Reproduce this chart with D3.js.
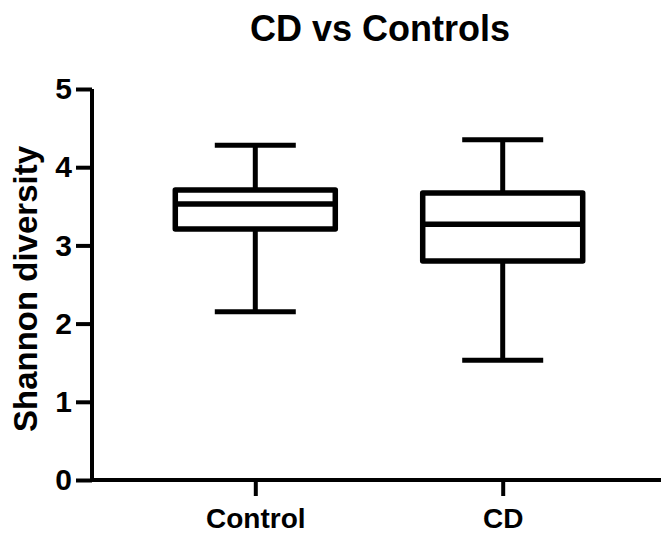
<!DOCTYPE html>
<html>
<head>
<meta charset="utf-8">
<script src="https://cdn.jsdelivr.net/npm/d3@7"></script>
<style>
  body { margin: 0; background: #fff; }
  text { font-family: "Liberation Sans", Arial, sans-serif; font-weight: bold; fill: #000; }
</style>
</head>
<body>
<svg id="chart" width="661" height="533"></svg>
<script>
// groups and five-number summaries
const groups = ["Control", "CD"];
const mins = [2.15, 1.53];
const q1s = [3.21, 2.80];
const medians = [3.53, 3.27];
const q3s = [3.71, 3.67];
const maxs = [4.28, 4.35];
const yTicks = [0, 1, 2, 3, 4, 5];

const svg = d3.select('#chart');

// scales
const y = d3.scaleLinear().domain([0, 5]).range([480, 89]);
const x = d3.scalePoint().domain(groups).range([92, 666]).padding(0.66);

const boxW = 160;
const capW = 81;

// title
svg.append('text')
  .attr('x', 380).attr('y', 41)
  .attr('text-anchor', 'middle')
  .style('font-size', '36px')
  .text('CD vs Controls');

// y axis
const yAxis = svg.append('g')
  .attr('transform', 'translate(92,0)')
  .call(d3.axisLeft(y).tickValues(yTicks).tickFormat(d3.format('d')).tickSize(16).tickPadding(4));
yAxis.select('.domain').attr('stroke-width', 4).attr('d', 'M0,' + y(5) + 'V' + y(0));
yAxis.selectAll('.tick line').attr('stroke-width', 4);
yAxis.selectAll('.tick text').style('font-size', '30px');

// x axis
const xAxis = svg.append('g')
  .attr('transform', 'translate(0,480)')
  .call(d3.axisBottom(x).tickSize(16).tickPadding(12));
xAxis.select('.domain').attr('stroke-width', 4).attr('d', 'M90,0H661');
xAxis.selectAll('.tick line').attr('stroke-width', 4);
xAxis.selectAll('.tick text').style('font-size', '28px');

// y label
svg.append('text')
  .attr('transform', 'translate(37,289) rotate(-90)')
  .attr('text-anchor', 'middle')
  .style('font-size', '33px')
  .text('Shannon diversity');

// boxes
const data = groups.map((g, i) => ({ g, min: mins[i], q1: q1s[i], med: medians[i], q3: q3s[i], max: maxs[i] }));
const box = svg.append('g').selectAll('g').data(data).join('g')
  .attr('transform', d => 'translate(' + x(d.g) + ',0)');

// whiskers
box.append('line')
  .attr('y1', d => y(d.max)).attr('y2', d => y(d.q3))
  .attr('stroke', '#000').attr('stroke-width', 5);
box.append('line')
  .attr('y1', d => y(d.q1)).attr('y2', d => y(d.min))
  .attr('stroke', '#000').attr('stroke-width', 5);
box.append('line')
  .attr('x1', -capW / 2).attr('x2', capW / 2)
  .attr('y1', d => y(d.max)).attr('y2', d => y(d.max))
  .attr('stroke', '#000').attr('stroke-width', 5);
box.append('line')
  .attr('x1', -capW / 2).attr('x2', capW / 2)
  .attr('y1', d => y(d.min)).attr('y2', d => y(d.min))
  .attr('stroke', '#000').attr('stroke-width', 5);

// box body
box.append('rect')
  .attr('x', -boxW / 2).attr('width', boxW)
  .attr('y', d => y(d.q3)).attr('height', d => y(d.q1) - y(d.q3))
  .attr('fill', '#fff').attr('stroke', '#000').attr('stroke-width', 5.5)
  .attr('stroke-linejoin', 'round');
box.append('line')
  .attr('x1', -boxW / 2).attr('x2', boxW / 2)
  .attr('y1', d => y(d.med)).attr('y2', d => y(d.med))
  .attr('stroke', '#000').attr('stroke-width', 5.5);
</script>
</body>
</html>
